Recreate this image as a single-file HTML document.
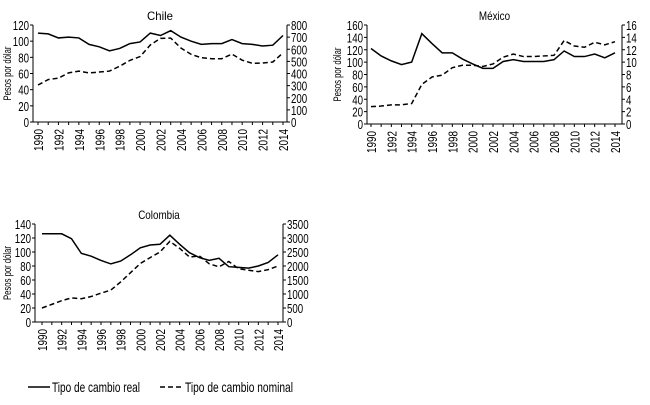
<!DOCTYPE html>
<html><head><meta charset="utf-8"><style>
body{margin:0;background:#fff;}
svg{display:block;font-family:"Liberation Sans Narrow","Liberation Sans",sans-serif;}
</style></head><body>
<svg id="s" width="650" height="405" viewBox="0 0 650 405">
<g>
<line x1="28" y1="387" x2="50" y2="387" stroke="#000" stroke-width="1.5"/>
<text x="52" y="392" font-size="14" textLength="88" lengthAdjust="spacingAndGlyphs">Tipo de cambio real</text>
<line x1="160" y1="387" x2="183" y2="387" stroke="#000" stroke-width="1.5" stroke-dasharray="5,3"/>
<text x="185" y="392" font-size="14" textLength="108" lengthAdjust="spacingAndGlyphs">Tipo de cambio nominal</text>
</g>
</svg>
<script>
const years=[];for(let y=1990;y<=2014;y++)years.push(y);
const chileReal=[110,109,104,105,104,96,93,88,91,97,99,110,107,113,105,100,96,97,97,102,97,96,94,95,107];
const chileNominal=[305,350,362,405,420,405,412,420,460,508,540,635,690,692,610,558,530,522,522,560,510,484,486,495,570];
const mexicoReal=[122,110,102,96,100,146,130,115,115,105,97,90,90,101,104,101,101,101,104,118,109,109,113,107,115];
const mexicoNominal=[2.8,2.9,3.1,3.1,3.3,6.4,7.6,7.9,9.1,9.5,9.5,9.3,9.7,10.8,11.3,10.9,10.9,11.0,11.1,13.5,12.6,12.4,13.2,12.8,13.3];
const colombiaReal=[126,126,126,119,98,94,88,83,87,96,106,110,111,124,111,99,92,88,91,79,78,77,80,85,96];
const colombiaNominal=[500,630,760,860,830,910,1030,1140,1430,1760,2090,2300,2500,2880,2630,2320,2360,2080,1970,2160,1900,1850,1800,1870,2000];
const chileLeftTicks=[0,20,40,60,80,100,120];
const chileRightTicks=[0,100,200,300,400,500,600,700,800];
const mexicoLeftTicks=[0,20,40,60,80,100,120,140,160];
const mexicoRightTicks=[0,2,4,6,8,10,12,14,16];
const colombiaLeftTicks=[0,20,40,60,80,100,120,140];
const colombiaRightTicks=[0,500,1000,1500,2000,2500,3000,3500];
const NS="http://www.w3.org/2000/svg";
const svg=document.getElementById('s');
function mk(tag,attrs,parent){const e=document.createElementNS(NS,tag);for(const k in attrs)e.setAttribute(k,attrs[k]);parent.appendChild(e);return e;}
function txt(parent,s,attrs,w){const e=mk('text',attrs,parent);e.textContent=s;e.setAttribute('textLength',w);e.setAttribute('lengthAdjust','spacingAndGlyphs');return e;}
function chart(o){
  const g=mk('g',{},svg);
  
  
  const lMax=o.lt[o.lt.length-1],rMax=o.rt[o.rt.length-1];
  const xs=i=>o.x0+(o.x1-o.x0)*i/(years.length-1);
  const yl=v=>o.yb-(o.yb-o.yt)*v/lMax;
  const yr=v=>o.yb-(o.yb-o.yt)*v/rMax;
  const t=txt(g,o.title,{x:(o.l+o.r)/2-o.title.length*2.6,y:o.yt-5,'font-size':12},o.title.length*5.2);
  
  
  mk('line',{x1:o.l,y1:o.yt,x2:o.l,y2:o.yb,stroke:'#000'},g);
  mk('line',{x1:o.r,y1:o.yt,x2:o.r,y2:o.yb,stroke:'#000'},g);
  mk('line',{x1:o.l,y1:o.yb,x2:o.r,y2:o.yb,stroke:'#000'},g);
  o.lt.forEach(v=>{mk('line',{x1:o.l-3,y1:yl(v),x2:o.l,y2:yl(v),stroke:'#000'},g);
    const s=String(v),w=s.length*5.4;
    const e=txt(g,s,{x:o.l-4-w,y:yl(v)+5,'font-size':13},w);
    
    });
  o.rt.forEach(v=>{mk('line',{x1:o.r,y1:yr(v),x2:o.r+3,y2:yr(v),stroke:'#000'},g);
    const s=String(v);
    const e=txt(g,s,{x:o.r+4,y:yr(v)+5,'font-size':13},s.length*5.4);
    
    });
  years.forEach((y,i)=>{mk('line',{x1:xs(i),y1:o.yb,x2:xs(i),y2:o.yb+3,stroke:'#000'},g);
    if(i%2===0){const e=txt(g,String(y),{x:0,y:0,'font-size':13,transform:`translate(${xs(i)+5},${o.yb+29}) rotate(-90)`},22);
    
    }});
  const yt=txt(g,'Pesos por dólar',{x:0,y:0,'font-size':11,transform:`translate(${o.tx},${(o.yt+o.yb)/2+27}) rotate(-90)`},54);
  
  
  const p1=mk('polyline',{points:o.real.map((v,i)=>xs(i)+','+yl(v)).join(' '),fill:'none',stroke:'#000','stroke-width':1.5},g);
  
  
  const p2=mk('polyline',{points:o.nom.map((v,i)=>xs(i)+','+yr(v)).join(' '),fill:'none',stroke:'#000','stroke-width':1.5,'stroke-dasharray':'5,3'},g);
  
  
}
chart({name:'chile',title:'Chile',l:33,r:287,x0:38,x1:283,yt:25,yb:122,tx:11,lt:chileLeftTicks,rt:chileRightTicks,real:chileReal,nom:chileNominal});
chart({name:'mexico',title:'México',l:367,r:622,x0:371,x1:615,yt:25,yb:124,tx:341,lt:mexicoLeftTicks,rt:mexicoRightTicks,real:mexicoReal,nom:mexicoNominal});
chart({name:'colombia',title:'Colombia',l:35,r:283,x0:42,x1:278,yt:224,yb:322,tx:11,lt:colombiaLeftTicks,rt:colombiaRightTicks,real:colombiaReal,nom:colombiaNominal});
</script>
</body></html>
